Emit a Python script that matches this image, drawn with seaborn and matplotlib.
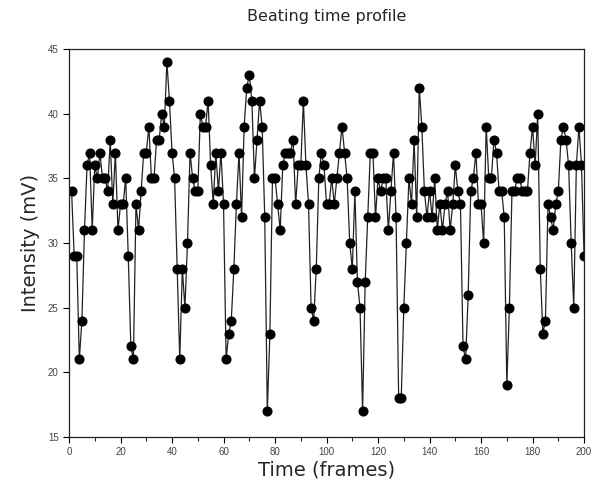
import numpy as np
import pandas as pd
import seaborn as sns
import matplotlib.pyplot as plt
from matplotlib.ticker import MultipleLocator

# Beating intensity per frame
frames = np.arange(1, 201)
intensity = [
    34, 29, 29, 21, 24, 31, 36, 37, 31, 36,
    35, 37, 35, 35, 34, 38, 33, 37, 31, 33,
    33, 35, 29, 22, 21, 33, 31, 34, 37, 37,
    39, 35, 35, 38, 38, 40, 39, 44, 41, 37,
    35, 28, 21, 28, 25, 30, 37, 35, 34, 34,
    40, 39, 39, 41, 36, 33, 37, 34, 37, 33,
    21, 23, 24, 28, 33, 37, 32, 39, 42, 43,
    41, 35, 38, 41, 39, 32, 17, 23, 35, 35,
    33, 31, 36, 37, 37, 37, 38, 33, 36, 36,
    41, 36, 33, 25, 24, 28, 35, 37, 36, 33,
    33, 35, 33, 35, 37, 39, 37, 35, 30, 28,
    34, 27, 25, 17, 27, 32, 37, 37, 32, 35,
    34, 35, 35, 31, 34, 37, 32, 18, 18, 25,
    30, 35, 33, 38, 32, 42, 39, 34, 32, 34,
    32, 35, 31, 33, 31, 33, 34, 31, 33, 36,
    34, 33, 22, 21, 26, 34, 35, 37, 33, 33,
    30, 39, 35, 35, 38, 37, 34, 34, 32, 19,
    25, 34, 34, 35, 35, 34, 34, 34, 37, 39,
    36, 40, 28, 23, 24, 33, 32, 31, 33, 34,
    38, 39, 38, 36, 30, 25, 36, 39, 36, 29,
]

x_ticks = [0, 20, 40, 60, 80, 100, 120, 140, 160, 180, 200]
y_ticks = [15, 20, 25, 30, 35, 40, 45]


def main():
    df = pd.DataFrame({"frame": frames, "intensity": intensity})

    sns.set_style("ticks")
    plt.rcParams['font.family'] = ['DejaVu Sans']

    fig = plt.figure(figsize=(5.92, 4.86), dpi=100)
    ax = fig.add_axes([0.1166, 0.1008, 0.87, 0.7982])

    sns.lineplot(data=df, x="frame", y="intensity", ax=ax, color="#222222",
                 linewidth=0.9, marker="o", markersize=6.5,
                 markerfacecolor="black", markeredgecolor="black")

    ax.set_xlim(0, 200)
    ax.set_ylim(15, 45)
    ax.set_xticks(x_ticks)
    ax.set_yticks(y_ticks)
    ax.xaxis.set_minor_locator(MultipleLocator(10))
    ax.tick_params(axis="both", which="major", labelsize=7, length=4,
                   width=0.8, direction="out", colors="black",
                   labelcolor="#444444")
    ax.tick_params(axis="x", which="minor", length=3, width=0.8, direction="out")
    for lbl in ax.get_xticklabels() + ax.get_yticklabels():
        lbl.set_family("Liberation Sans")
    for side in ["top", "right", "left", "bottom"]:
        ax.spines[side].set_visible(True)
        ax.spines[side].set_linewidth(0.9)
        ax.spines[side].set_color("#222222")

    ax.set_xlabel("Time (frames)", fontsize=14, labelpad=2)
    ax.set_ylabel("Intensity (mV)", fontsize=14, labelpad=6)
    ax.set_title("Beating time profile", fontsize=11.5, pad=20)

    fig.savefig("out.png", dpi=100)
    plt.close(fig)


if __name__ == "__main__":
    main()
